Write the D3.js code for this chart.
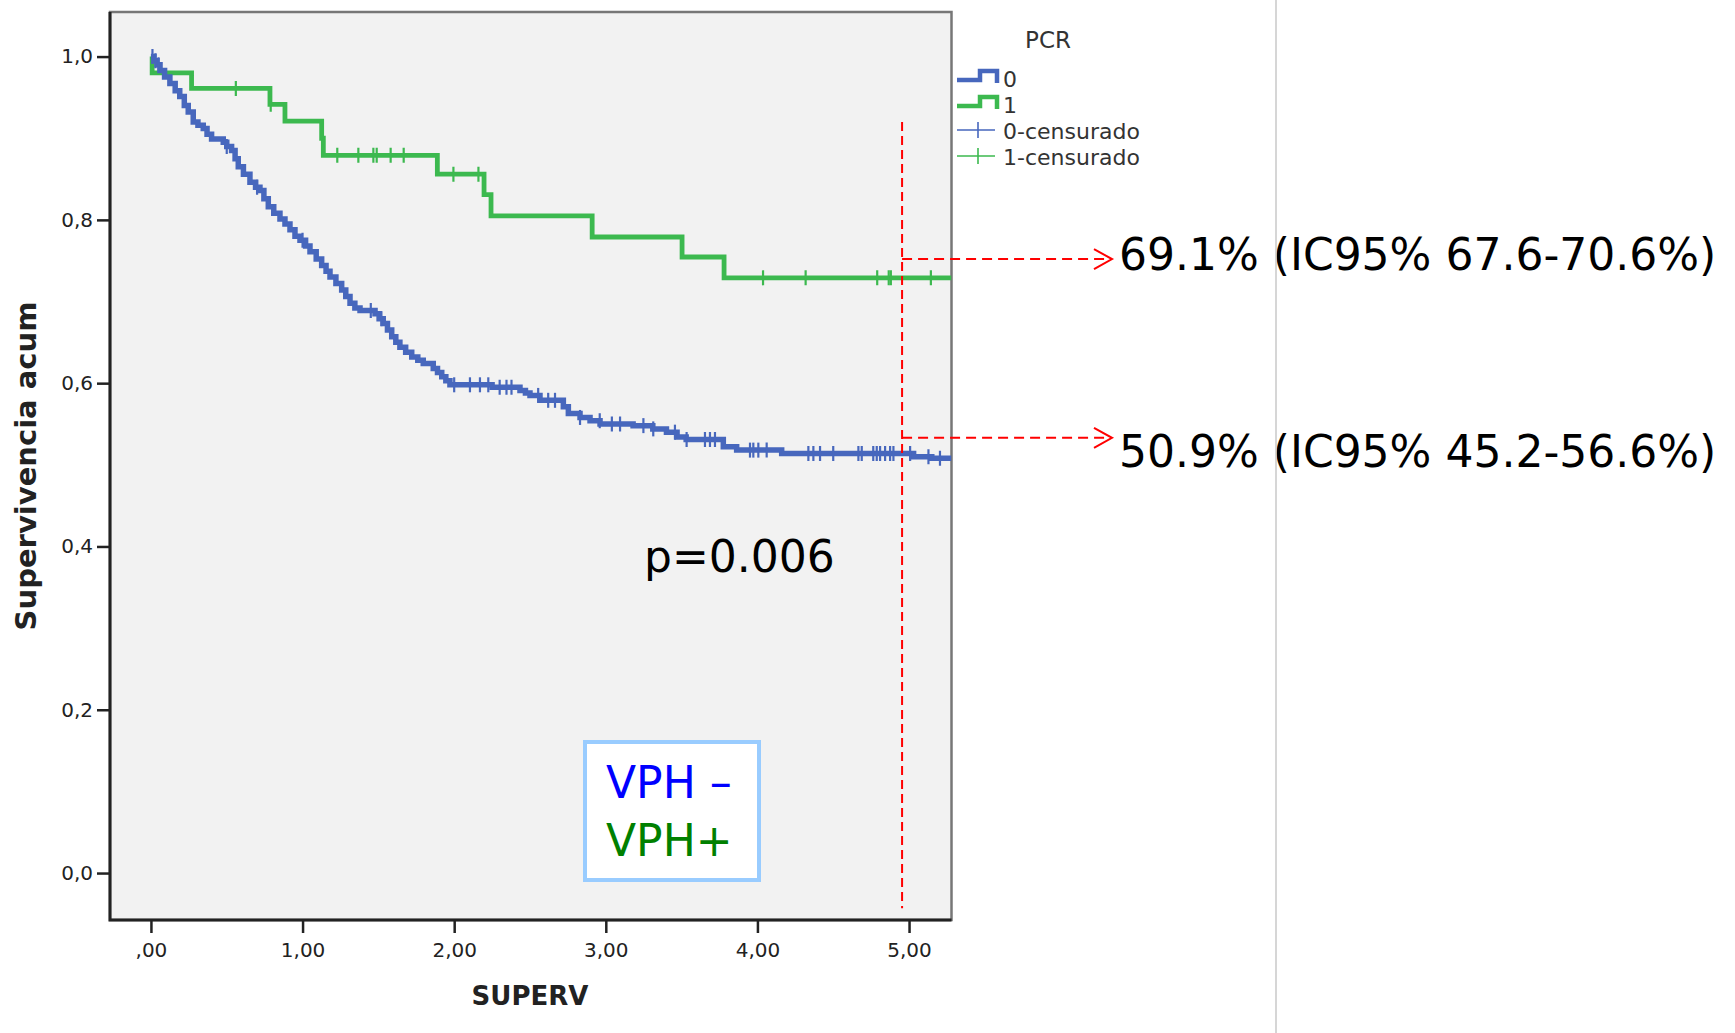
<!DOCTYPE html>
<html lang="es">
<head>
<meta charset="utf-8">
<script src="https://d3js.org/d3.v7.min.js"></script>
<title>Supervivencia acum</title>
<style>
  body { margin: 0; background: #fff; }
  svg { display: block; }
  .tick text { font-family: "DejaVu Sans", sans-serif; font-size: 20px; fill: #222; }
  .tick line { stroke: #222; stroke-width: 2.5; }
  .domain { display: none; }
  .km { fill: none; stroke-linejoin: miter; }
  .cens { stroke-width: 2.2; }
  .big { font-family: "DejaVu Sans", sans-serif; font-size: 44px; }
</style>
</head>
<body>
<div id="chart"></div>
<script>
// Kaplan-Meier steps: [time in years, cumulative survival]
var pcr0Steps = [
  [0, 1.0], [0.02, 0.995], [0.04, 0.99], [0.06, 0.983], [0.09, 0.975], [0.125, 0.967],
  [0.16, 0.958], [0.19, 0.951], [0.22, 0.94], [0.246, 0.932], [0.279, 0.92], [0.31, 0.916],
  [0.345, 0.912], [0.37, 0.905], [0.40, 0.899], [0.477, 0.895], [0.50, 0.89], [0.532, 0.885],
  [0.555, 0.875], [0.576, 0.865], [0.61, 0.856], [0.653, 0.846], [0.69, 0.84], [0.719, 0.836],
  [0.745, 0.826], [0.774, 0.816], [0.81, 0.808], [0.851, 0.801], [0.884, 0.795], [0.917, 0.788],
  [0.95, 0.78], [0.983, 0.775], [1.02, 0.768], [1.049, 0.761], [1.09, 0.752], [1.126, 0.744],
  [1.155, 0.737], [1.181, 0.73], [1.22, 0.722], [1.258, 0.714], [1.285, 0.706], [1.313, 0.698],
  [1.345, 0.692], [1.379, 0.689], [1.478, 0.685], [1.505, 0.679], [1.532, 0.673], [1.56, 0.665],
  [1.588, 0.657], [1.615, 0.65], [1.642, 0.644], [1.68, 0.638], [1.72, 0.632], [1.76, 0.628],
  [1.796, 0.624], [1.862, 0.618], [1.89, 0.613], [1.918, 0.608], [1.945, 0.603], [1.972, 0.598],
  [2.25, 0.595], [2.434, 0.591], [2.47, 0.588], [2.5, 0.585], [2.566, 0.579], [2.72, 0.571],
  [2.753, 0.563], [2.83, 0.558], [2.896, 0.554], [2.962, 0.55], [3.18, 0.548], [3.31, 0.544],
  [3.40, 0.54], [3.47, 0.534], [3.53, 0.531], [3.775, 0.522], [3.863, 0.518], [4.16, 0.514],
  [5.03, 0.51], [5.15, 0.508]
];
var pcr0Censored = [0.01, 0.03, 0.05, 0.5, 0.7, 1.0, 1.45, 1.52, 2.0, 2.104, 2.17, 2.225, 2.3,
  2.345, 2.378, 2.554, 2.62, 2.665, 2.83, 2.96, 3.04, 3.094, 3.248, 3.313, 3.456, 3.533, 3.654,
  3.687, 3.72, 3.951, 3.973, 4.006, 4.061, 4.336, 4.369, 4.413, 4.5, 4.666, 4.688, 4.764, 4.787,
  4.809, 4.842, 4.875, 4.897, 5.007, 5.128, 5.204];

var pcr1Steps = [
  [0, 1.0], [0.008, 0.98], [0.268, 0.961], [0.785, 0.9415], [0.884, 0.921], [1.126, 0.90],
  [1.137, 0.879], [1.889, 0.856], [2.197, 0.831], [2.243, 0.805], [2.91, 0.779],
  [3.503, 0.7545], [3.78, 0.729]
];
var pcr1Censored = [0.56, 0.79, 1.229, 1.368, 1.467, 1.489, 1.581, 1.667, 1.995, 2.16,
  4.037, 4.318, 4.79, 4.866, 4.88, 5.144];

var yTicks = [0, 0.2, 0.4, 0.6, 0.8, 1.0];
var xTicks = [0, 1, 2, 3, 4, 5];
var legendLabels = ["0", "1", "0-censurado", "1-censurado"];
var estimates = ["69.1% (IC95% 67.6-70.6%)", "50.9% (IC95% 45.2-56.6%)"];
var estimateLevels = [0.752, 0.533];  // where the arrows leave the 5-year line
var cutTime = 4.954;
var pText = "p=0.006";

var blue = "#4767bd", green = "#3cb94f";

var W = 1735, H = 1033;
var svg = d3.select("#chart").append("svg").attr("width", W).attr("height", H);

var x = d3.scaleLinear().domain([-0.27, 5.28]).range([110, 951.5]);
var y = d3.scaleLinear().domain([-0.0575, 1.0546]).range([920, 12]);

// plot background + frame
svg.append("rect")
  .attr("x", x.range()[0]).attr("y", y.range()[1])
  .attr("width", x.range()[1] - x.range()[0]).attr("height", y.range()[0] - y.range()[1])
  .attr("fill", "#f2f2f2").attr("stroke", "#777").attr("stroke-width", 2.5);

svg.append("clipPath").attr("id", "plotclip").append("rect")
  .attr("x", x.range()[0]).attr("y", y.range()[1])
  .attr("width", x.range()[1] - x.range()[0]).attr("height", y.range()[0] - y.range()[1]);

// axes
svg.append("g")
  .attr("transform", "translate(" + x.range()[0] + ",0)")
  .call(d3.axisLeft(y).tickValues(yTicks).tickSize(13).tickPadding(4)
    .tickFormat(function(d) { return d3.format(".1f")(d).replace(".", ","); }));

svg.append("g")
  .attr("transform", "translate(0," + y.range()[0] + ")")
  .call(d3.axisBottom(x).tickValues(xTicks).tickSize(13).tickPadding(10)
    .tickFormat(function(d) { return d === 0 ? ",00" : d3.format(".2f")(d).replace(".", ","); }));

// dark left/bottom frame edges
svg.append("path")
  .attr("d", "M" + x.range()[0] + "," + y.range()[1] + "V" + y.range()[0] + "H" + x.range()[1])
  .attr("fill", "none").attr("stroke", "#222").attr("stroke-width", 3);

svg.append("text")
  .attr("x", 530).attr("y", 1005)
  .attr("text-anchor", "middle")
  .style("font-family", "DejaVu Sans, sans-serif").style("font-size", "26px")
  .style("font-weight", "bold").attr("fill", "#222")
  .text("SUPERV");

svg.append("text")
  .attr("transform", "translate(36,466) rotate(-90)")
  .attr("text-anchor", "middle")
  .style("font-family", "DejaVu Sans, sans-serif").style("font-size", "29px")
  .style("font-weight", "bold").attr("fill", "#222")
  .text("Supervivencia acum");

// curves
var line = d3.line()
  .x(function(d) { return x(d[0]); })
  .y(function(d) { return y(d[1]); })
  .curve(d3.curveStepAfter);

var plot = svg.append("g").attr("clip-path", "url(#plotclip)");

function survAt(steps, t) {
  var i = d3.bisector(function(d) { return d[0]; }).right(steps, t) - 1;
  return steps[Math.max(0, i)][1];
}

function drawGroup(steps, censored, color, width) {
  var pts = steps.concat([[x.domain()[1], steps[steps.length - 1][1]]]);
  plot.append("path").datum(pts).attr("class", "km")
    .attr("stroke", color).attr("stroke-width", width).attr("d", line);
  plot.selectAll(null).data(censored).enter().append("line")
    .attr("class", "cens").attr("stroke", color)
    .attr("x1", function(d) { return x(d); }).attr("x2", function(d) { return x(d); })
    .attr("y1", function(d) { return y(survAt(steps, d)) - 7.5; })
    .attr("y2", function(d) { return y(survAt(steps, d)) + 7.5; });
}
drawGroup(pcr1Steps, pcr1Censored, green, 4.8);
drawGroup(pcr0Steps, pcr0Censored, blue, 5.5);

// legend
var lg = svg.append("g").attr("transform", "translate(957,0)");
lg.append("text").attr("x", 91).attr("y", 48).attr("text-anchor", "middle")
  .style("font-family", "DejaVu Sans, sans-serif").style("font-size", "23px").attr("fill", "#333")
  .text("PCR");
[blue, green].forEach(function(c, i) {
  var yy = 80 + i * 26;
  lg.append("path")
    .attr("d", "M0," + yy + "H23V" + (yy - 9) + "H40V" + (yy + 3))
    .attr("fill", "none").attr("stroke", c).attr("stroke-width", 4.5);
});
[blue, green].forEach(function(c, i) {
  var yy = 130 + i * 26;
  lg.append("path").attr("d", "M0," + yy + "H38M21," + (yy - 8) + "V" + (yy + 8))
    .attr("stroke", c).attr("stroke-width", 1.6);
});
lg.selectAll(null).data(legendLabels).enter().append("text")
  .attr("x", 46).attr("y", function(d, i) { return 87 + i * 26; })
  .style("font-family", "DejaVu Sans, sans-serif").style("font-size", "22px").attr("fill", "#333")
  .text(function(d) { return d; });

// 5-year annotations
var red = "#ff0000";
svg.append("line")
  .attr("x1", x(cutTime)).attr("x2", x(cutTime))
  .attr("y1", y(0.92)).attr("y2", y(-0.043))
  .attr("stroke", red).attr("stroke-width", 2).attr("stroke-dasharray", "9,5");

var tipX = 1112;
estimateLevels.forEach(function(v, i) {
  var yy = y(v);
  svg.append("line")
    .attr("x1", x(cutTime)).attr("x2", tipX - 2).attr("y1", yy).attr("y2", yy)
    .attr("stroke", red).attr("stroke-width", 2).attr("stroke-dasharray", "10,6");
  svg.append("path")
    .attr("d", "M" + (tipX - 18) + "," + (yy - 10) + "L" + tipX + "," + yy + "L" + (tipX - 18) + "," + (yy + 10))
    .attr("fill", "none").attr("stroke", red).attr("stroke-width", 2);
  svg.append("text").attr("class", "big")
    .attr("x", 1119).attr("y", yy + [11, 29][i])
    .attr("fill", "#000")
    .text(estimates[i]);
});

svg.append("text").attr("class", "big")
  .attr("x", 644).attr("y", 572).attr("fill", "#000")
  .text(pText);

// VPH box
svg.append("rect")
  .attr("x", 585).attr("y", 742).attr("width", 174).attr("height", 138)
  .attr("fill", "#fff").attr("stroke", "#99ccff").attr("stroke-width", 4);
svg.append("text").attr("class", "big").attr("x", 606).attr("y", 798)
  .attr("fill", "#0000ff").text("VPH \u2013");
svg.append("text").attr("class", "big").attr("x", 606).attr("y", 856)
  .attr("fill", "#008000").text("VPH+");

// slide divider
svg.append("line").attr("x1", 1276).attr("x2", 1276).attr("y1", 0).attr("y2", H)
  .attr("stroke", "#c8c8c8").attr("stroke-width", 1.5);
</script>
</body>
</html>
